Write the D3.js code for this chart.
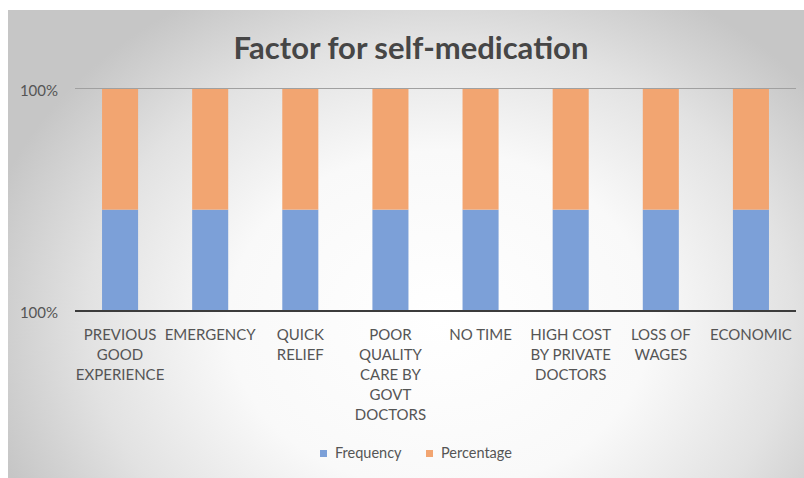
<!DOCTYPE html>
<html>
<head>
<meta charset="utf-8">
<script src="https://cdn.jsdelivr.net/npm/d3@7"></script>
<style>
  html, body { margin: 0; padding: 0; background: #ffffff; }
  svg { display: block; }
</style>
</head>
<body>
<svg id="chart" width="804" height="478"></svg>
<script>
// ---- data ----
const categories = [
  "PREVIOUS GOOD EXPERIENCE",
  "EMERGENCY",
  "QUICK RELIEF",
  "POOR QUALITY CARE BY GOVT DOCTORS",
  "NO TIME",
  "HIGH COST BY PRIVATE DOCTORS",
  "LOSS OF WAGES",
  "ECONOMIC"
];
const categoryLines = [
  ["PREVIOUS", "GOOD", "EXPERIENCE"],
  ["EMERGENCY"],
  ["QUICK", "RELIEF"],
  ["POOR", "QUALITY", "CARE BY", "GOVT", "DOCTORS"],
  ["NO TIME"],
  ["HIGH COST", "BY PRIVATE", "DOCTORS"],
  ["LOSS OF", "WAGES"],
  ["ECONOMIC"]
];
const seriesNames = ["Frequency", "Percentage"];
const frequency  = [84, 84, 84, 84, 84, 84, 84, 84];
const percentage = [100, 100, 100, 100, 100, 100, 100, 100];
const yTickLabels = ["100%", "100%"];
const colors = ["#7ca0d8", "#f2a571"];

// ---- build ----
const svg = d3.select("#chart");
const defs = svg.append("defs");
const grad = defs.append("radialGradient")
  .attr("id", "bg")
  .attr("gradientUnits", "userSpaceOnUse")
  .attr("cx", 440).attr("cy", 320).attr("r", 470)
  .attr("gradientTransform", "translate(440,320) scale(1,0.8) translate(-440,-320)");
grad.append("stop").attr("offset", 0).attr("stop-color", "#ffffff");
grad.append("stop").attr("offset", 0.45).attr("stop-color", "#f9f9f9");
grad.append("stop").attr("offset", 0.75).attr("stop-color", "#e2e2e2");
grad.append("stop").attr("offset", 1).attr("stop-color", "#c6c6c6");

svg.append("rect")
  .attr("x", 8).attr("y", 10).attr("width", 796).attr("height", 468)
  .attr("fill", "url(#bg)");

const x = d3.scaleBand()
  .domain(categories)
  .range([75, 796])
  .paddingInner(0.6)
  .paddingOuter(0.3);

const y = d3.scaleLinear().domain([0, 100]).range([311, 89]);

// 100% stacked data
const rows = categories.map((c, i) => {
  const tot = frequency[i] + percentage[i];
  return { cat: c, Frequency: frequency[i] / tot * 100, Percentage: percentage[i] / tot * 100 };
});
const stack = d3.stack().keys(seriesNames)(rows);

// top gridline
svg.append("line")
  .attr("x1", 75).attr("x2", 796)
  .attr("y1", y(100) - 0.5).attr("y2", y(100) - 0.5)
  .attr("stroke", "#a0a0a0").attr("stroke-width", 1);

// bars
svg.append("g").selectAll("g")
  .data(stack)
  .join("g")
  .attr("fill", (d, i) => colors[i])
  .selectAll("rect")
  .data(d => d)
  .join("rect")
  .attr("x", d => x(d.data.cat))
  .attr("width", x.bandwidth())
  .attr("y", d => y(d[1]))
  .attr("height", d => y(d[0]) - y(d[1]));

// bottom axis line
svg.append("line")
  .attr("x1", 75).attr("x2", 796)
  .attr("y1", y(0)).attr("y2", y(0))
  .attr("stroke", "#3c3c3c").attr("stroke-width", 2);

const font = "Lato, 'Open Sans', sans-serif";

// y tick labels
const yTicks = [100, 0];
svg.append("g").selectAll("text")
  .data(yTicks)
  .join("text")
  .attr("x", 58)
  .attr("y", d => y(d) + 7)
  .attr("text-anchor", "end")
  .attr("font-family", font)
  .attr("font-size", 15)
  .attr("fill", "#555555")
  .text((d, i) => yTickLabels[i]);

// category labels
const labelG = svg.append("g");
categories.forEach((c, i) => {
  const t = labelG.append("text")
    .attr("text-anchor", "middle")
    .attr("font-family", font)
    .attr("font-size", 15)
    .attr("fill", "#555555");
  categoryLines[i].forEach((ln, j) => {
    t.append("tspan")
      .attr("x", x(c) + x.bandwidth() / 2)
      .attr("y", 340 + j * 20)
      .text(ln);
  });
});

// title
svg.append("text")
  .attr("x", 411).attr("y", 59)
  .attr("text-anchor", "middle")
  .attr("font-family", font)
  .attr("font-size", 31)
  .attr("font-weight", 700)
  .attr("fill", "#464646")
  .text("Factor for self-medication");

// legend
const legendX = [320, 426];
const lg = svg.append("g");
seriesNames.forEach((s, i) => {
  lg.append("rect")
    .attr("x", legendX[i]).attr("y", 450)
    .attr("width", 7).attr("height", 7)
    .attr("fill", colors[i]);
  lg.append("text")
    .attr("x", legendX[i] + 15).attr("y", 458)
    .attr("font-family", font)
    .attr("font-size", 14.5)
    .attr("fill", "#555555")
    .text(s);
});
</script>
</body>
</html>
